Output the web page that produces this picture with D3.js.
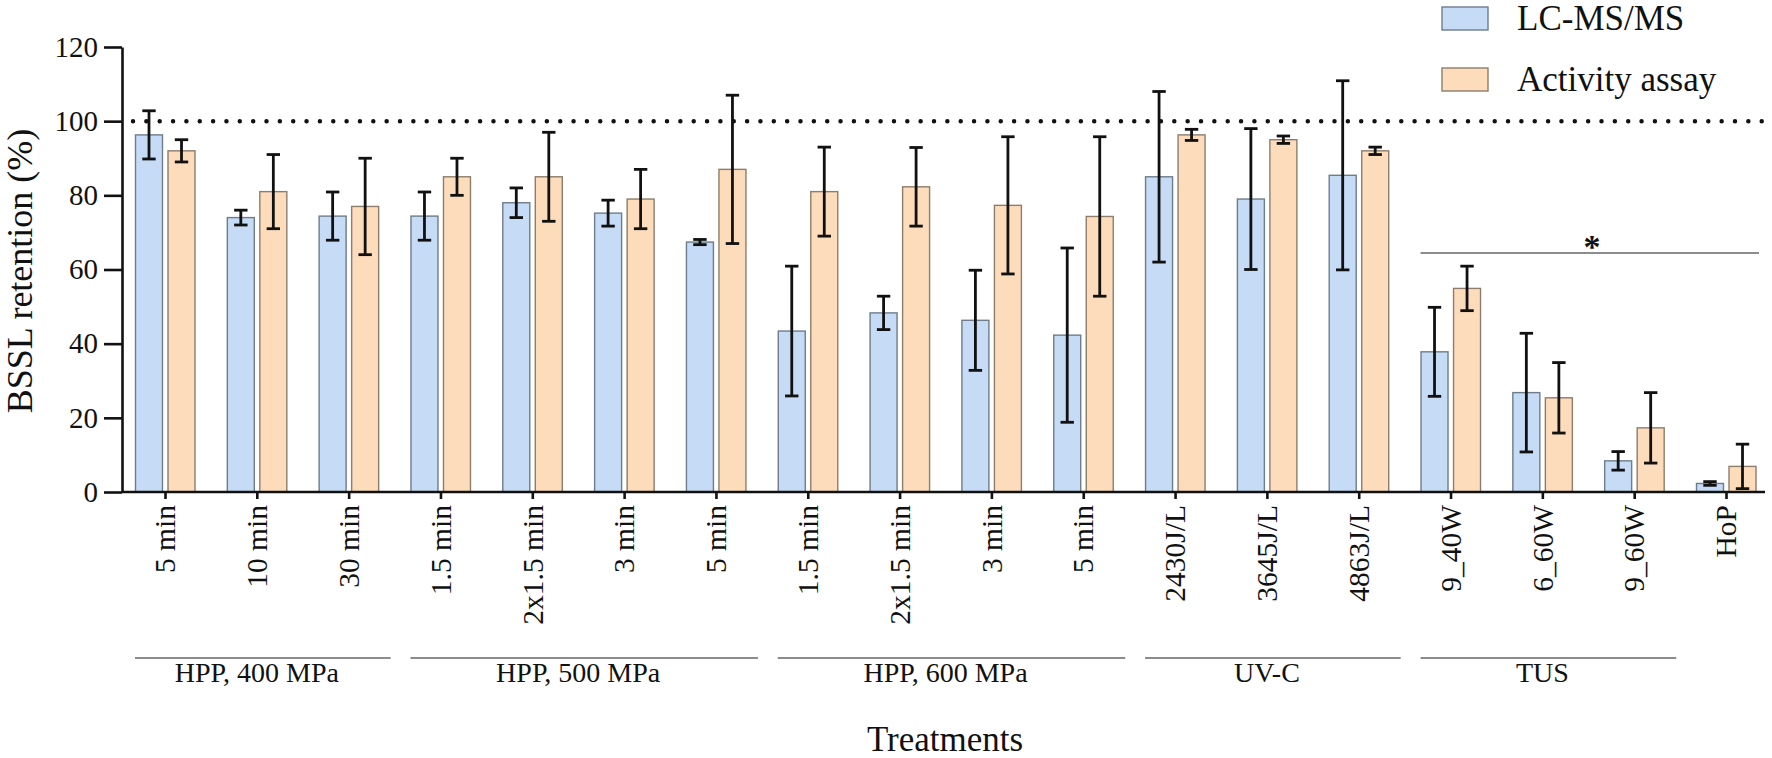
<html>
<head>
  <script src="https://d3js.org/d3.v7.min.js"></script>
  <style>
    body { margin: 0; background: #fff; }
    text { font-family: "Liberation Serif", "Times New Roman", serif; fill: #111; }
    .axis path, .axis line { stroke: #111; stroke-width: 2.6px; }
    .axis text { font-size: 29px; }
  </style>
</head>
<body>
<svg id="chart" width="1772" height="758"></svg>
<script>
  // data
  const categories = ["5 min", "10 min", "30 min",
                      "1.5 min", "2x1.5 min", "3 min", "5 min",
                      "1.5 min", "2x1.5 min", "3 min", "5 min",
                      "2430J/L", "3645J/L", "4863J/L",
                      "9_40W", "6_60W", "9_60W", "HoP"];
  const lcms      = [96.3, 74, 74.4, 74.4, 78, 75.2, 67.4, 43.4, 48.3, 46.3, 42.3, 85, 79, 85.4, 37.8, 26.8, 8.4, 2.3];
  const lcmsErr   = [6.5, 2, 6.5, 6.5, 4, 3.5, 0.7, 17.5, 4.5, 13.5, 23.5, 23, 19, 25.5, 12, 16, 2.5, 0.5];
  const activity  = [92, 81, 77, 85, 85, 79, 87, 81, 82.3, 77.3, 74.3, 96.3, 95, 92, 54.9, 25.4, 17.3, 6.9];
  const activityErr = [3, 10, 13, 5, 12, 8, 20, 12, 10.6, 18.5, 21.5, 1.5, 1, 1, 6, 9.5, 9.5, 6];
  const seriesNames = ["LC-MS/MS", "Activity assay"];
  const groupNames  = ["HPP, 400 MPa", "HPP, 500 MPa", "HPP, 600 MPa", "UV-C", "TUS"];
  const groupFirst  = [0, 3, 7, 11, 14];
  const groupLast   = [2, 6, 10, 13, 16];
  const yTicks = [0, 20, 40, 60, 80, 100, 120];

  const fills   = ["#c6dbf5", "#fddcbc"];
  const strokes = ["#6f7c8a", "#8d7d6c"];
  const serif = "'Liberation Serif', 'Times New Roman', serif";

  const svg = d3.select("svg#chart");
  const axisLeftX = 122, baseY = 492, topY = 47, axisRightX = 1765;

  const idx = d3.range(categories.length);
  const x = d3.scalePoint().domain(idx).range([165, 1726]);
  const inner = d3.scaleBand().domain([0, 1]).range([-29.5, 30]).paddingInner(0.17);
  const y = d3.scaleLinear().domain([0, 120]).range([baseY, topY]);

  // dotted reference at 100%
  svg.append("line")
     .attr("x1", axisLeftX + 11).attr("x2", 1772)
     .attr("y1", y(100)).attr("y2", y(100))
     .attr("stroke", "#111").attr("stroke-width", 4.5)
     .attr("stroke-linecap", "round")
     .attr("stroke-dasharray", "0 13.35");

  const rows = idx.map(i => [
    {s: 0, v: lcms[i], e: lcmsErr[i]},
    {s: 1, v: activity[i], e: activityErr[i]}
  ]);

  const groups = svg.append("g").selectAll("g").data(rows).join("g")
     .attr("transform", (d, i) => "translate(" + x(i) + ",0)");

  groups.selectAll("rect").data(d => d).join("rect")
     .attr("x", d => inner(d.s))
     .attr("width", inner.bandwidth())
     .attr("y", d => y(d.v))
     .attr("height", d => baseY - y(d.v))
     .attr("fill", d => fills[d.s])
     .attr("stroke", d => strokes[d.s])
     .attr("stroke-width", 1.4);

  const err = groups.selectAll("g.err").data(d => d).join("g").attr("class", "err")
     .attr("transform", d => "translate(" + (inner(d.s) + inner.bandwidth() / 2) + ",0)")
     .attr("stroke", "#111").attr("stroke-width", 2.8);
  err.append("line").attr("x1", 0).attr("x2", 0)
     .attr("y1", d => y(d.v + d.e)).attr("y2", d => y(Math.max(0, d.v - d.e)));
  err.append("line").attr("x1", -6.7).attr("x2", 6.7)
     .attr("y1", d => y(d.v + d.e)).attr("y2", d => y(d.v + d.e));
  err.append("line").attr("x1", -6.7).attr("x2", 6.7)
     .attr("y1", d => y(Math.max(0, d.v - d.e))).attr("y2", d => y(Math.max(0, d.v - d.e)));

  // y axis
  const yAxis = svg.append("g").attr("class", "axis")
     .attr("transform", "translate(" + axisLeftX + ",0)")
     .call(d3.axisLeft(y).tickValues(yTicks).tickSize(18).tickSizeOuter(0).tickPadding(6))
     .attr("font-family", serif).attr("font-size", 29);

  // x axis
  const xAxis = svg.append("g").attr("class", "axis")
     .attr("transform", "translate(0," + baseY + ")")
     .call(d3.axisBottom(x).tickSize(7).tickFormat(i => categories[i]))
     .attr("font-family", serif);
  xAxis.select(".domain").remove();
  xAxis.append("line").attr("x1", axisLeftX).attr("x2", axisRightX)
     .attr("y1", 0).attr("y2", 0);
  xAxis.selectAll(".tick text")
     .attr("transform", "rotate(-90)")
     .attr("x", -13).attr("y", 0).attr("dy", "0.33em")
     .attr("text-anchor", "end")
     .style("font-size", "29.5px");

  // treatment groups under the labels
  groupNames.forEach((g, k) => {
    const a = x(groupFirst[k]), b = x(groupLast[k]);
    svg.append("line")
       .attr("x1", a - 30).attr("x2", b + 42)
       .attr("y1", 658).attr("y2", 658)
       .attr("stroke", "#666").attr("stroke-width", 1.6);
    svg.append("text")
       .attr("x", (a + b) / 2).attr("y", 682)
       .attr("text-anchor", "middle")
       .style("font-size", "28px")
       .text(g);
  });

  // significance bar over TUS + HoP
  svg.append("line")
     .attr("x1", x(14) - 30).attr("x2", 1759)
     .attr("y1", 253).attr("y2", 253)
     .attr("stroke", "#666").attr("stroke-width", 1.6);
  svg.append("text")
     .attr("x", 1592).attr("y", 258)
     .attr("text-anchor", "middle")
     .style("font-size", "34px").style("font-weight", "bold")
     .text("*");

  // axis titles
  svg.append("text")
     .attr("transform", "translate(32," + 271 + ") rotate(-90)")
     .attr("text-anchor", "middle")
     .style("font-size", "36px")
     .text("BSSL retention (%)");
  svg.append("text")
     .attr("x", 945).attr("y", 751)
     .attr("text-anchor", "middle")
     .style("font-size", "35px")
     .text("Treatments");

  // legend
  seriesNames.forEach((n, k) => {
    const ly = 7 + k * 61;
    svg.append("rect")
       .attr("x", 1442).attr("y", ly).attr("width", 46).attr("height", 23)
       .attr("fill", fills[k]).attr("stroke", strokes[k]).attr("stroke-width", 1.4);
    svg.append("text")
       .attr("x", 1517).attr("y", ly + 23)
       .style("font-size", "35px")
       .text(n);
  });
</script>
</body>
</html>
